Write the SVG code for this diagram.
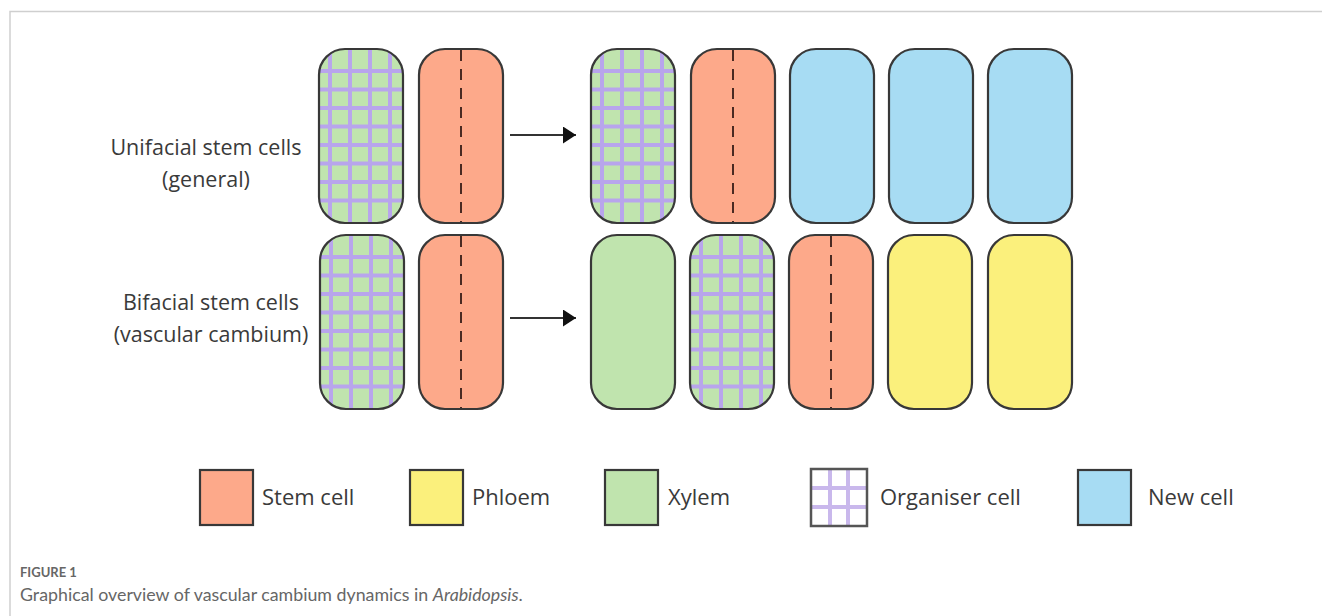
<svg xmlns="http://www.w3.org/2000/svg" xmlns:xlink="http://www.w3.org/1999/xlink" width="1322" height="616" viewBox="0 0 1322 616">
  <style>
    .frame { stroke: #cfcfcf; stroke-width: 1.5; fill: none; }
    .cell { stroke: #383838; stroke-width: 2.2; }
    .stem { fill: #fda98a; }
    .phloem { fill: #fbf07c; }
    .xylem { fill: #c0e4ae; }
    .newc { fill: #a7dcf3; }
    .split { stroke: #4a2a22; stroke-width: 2; stroke-dasharray: 11 8; }
    .grid { stroke: #b8a5ec; stroke-width: 4; }
    .lbl { font-family: "Open Sans", "Noto Sans", sans-serif; font-size: 21.5px; fill: #3a3a3a; text-anchor: middle; }
    .leg { font-family: "Open Sans", "Noto Sans", sans-serif; font-size: 22px; fill: #3a3a3a; }
    .arrow { stroke: #333; stroke-width: 2; fill: none; }
    .cap1 { font-family: "Lato", "Open Sans", sans-serif; font-size: 13px; font-weight: bold; fill: #666; }
    .cap2 { font-family: "Lato", "Open Sans", sans-serif; font-size: 17.8px; fill: #666; }
  </style>
  <defs>
    <marker id="head" viewBox="0 0 13 17" refX="13" refY="8.5" markerWidth="13" markerHeight="17" markerUnits="userSpaceOnUse" orient="auto">
      <path d="M0,0 L13,8.5 L0,17 Z" fill="#111"/>
    </marker>
    <!-- organiser cell: green body with a lavender lattice, clipped to the rounded outline -->
    <clipPath id="orgClip">
      <rect x="0" y="0" width="84" height="174" rx="26" ry="26"/>
    </clipPath>
    <g id="organiser">
      <rect x="0" y="0" width="84" height="174" rx="26" ry="26" class="xylem"/>
      <g clip-path="url(#orgClip)" class="grid">
        <line x1="11" y1="0" x2="11" y2="174"/>
        <line x1="31" y1="0" x2="31" y2="174"/>
        <line x1="51" y1="0" x2="51" y2="174"/>
        <line x1="71" y1="0" x2="71" y2="174"/>
        <line x1="0" y1="22" x2="84" y2="22"/>
        <line x1="0" y1="40.5" x2="84" y2="40.5"/>
        <line x1="0" y1="59" x2="84" y2="59"/>
        <line x1="0" y1="77.5" x2="84" y2="77.5"/>
        <line x1="0" y1="96" x2="84" y2="96"/>
        <line x1="0" y1="114.5" x2="84" y2="114.5"/>
        <line x1="0" y1="133" x2="84" y2="133"/>
        <line x1="0" y1="151.5" x2="84" y2="151.5"/>
      </g>
      <rect x="0" y="0" width="84" height="174" rx="26" ry="26" fill="none" class="cell"/>
    </g>
    <g id="stemCell">
      <rect x="0" y="0" width="84" height="174" rx="26" ry="26" class="cell stem"/>
      <line x1="42" y1="1" x2="42" y2="173" class="split"/>
    </g>
  </defs>

  <!-- page frame -->
  <path class="frame" d="M10,616 L10,11.5 L1322,11.5"/>

  <!-- row labels -->
  <g id="label-unifacial">
    <text class="lbl" x="206" y="155">Unifacial stem cells</text>
    <text class="lbl" x="206" y="187">(general)</text>
  </g>
  <g id="label-bifacial">
    <text class="lbl" x="211" y="310">Bifacial stem cells</text>
    <text class="lbl" x="211" y="342">(vascular cambium)</text>
  </g>

  <!-- unifacial row -->
  <g id="u-organiser"><use xlink:href="#organiser" x="319" y="49"/></g>
  <g id="u-stem"><use xlink:href="#stemCell" x="419" y="49"/></g>
  <g id="u-out-organiser"><use xlink:href="#organiser" x="591" y="49"/></g>
  <g id="u-out-stem"><use xlink:href="#stemCell" x="691" y="49"/></g>
  <g id="u-new-1"><rect x="790" y="49" width="84" height="174" rx="26" class="cell newc"/></g>
  <g id="u-new-2"><rect x="889" y="49" width="84" height="174" rx="26" class="cell newc"/></g>
  <g id="u-new-3"><rect x="988" y="49" width="84" height="174" rx="26" class="cell newc"/></g>

  <!-- bifacial row -->
  <g id="b-organiser"><use xlink:href="#organiser" x="320" y="235"/></g>
  <g id="b-stem"><use xlink:href="#stemCell" x="419" y="235"/></g>
  <g id="b-xylem"><rect x="591" y="235" width="84" height="174" rx="26" class="cell xylem"/></g>
  <g id="b-out-organiser"><use xlink:href="#organiser" x="690" y="235"/></g>
  <g id="b-out-stem"><use xlink:href="#stemCell" x="789" y="235"/></g>
  <g id="b-phloem-1"><rect x="888" y="235" width="84" height="174" rx="26" class="cell phloem"/></g>
  <g id="b-phloem-2"><rect x="988" y="235" width="84" height="174" rx="26" class="cell phloem"/></g>

  <!-- connectors -->
  <g id="connectors">
    <line class="arrow" x1="510" y1="135" x2="576" y2="135" marker-end="url(#head)"/>
    <line class="arrow" x1="510" y1="318" x2="576" y2="318" marker-end="url(#head)"/>
  </g>

  <!-- legend -->
  <g id="legend-stem">
    <rect x="200" y="470" width="53" height="55" class="cell stem"/>
    <text class="leg" x="262" y="505">Stem cell</text>
  </g>
  <g id="legend-phloem">
    <rect x="410" y="470" width="53" height="55" class="cell phloem"/>
    <text class="leg" x="472" y="505">Phloem</text>
  </g>
  <g id="legend-xylem">
    <rect x="605" y="470" width="53" height="55" class="cell xylem"/>
    <text class="leg" x="668" y="505">Xylem</text>
  </g>
  <g id="legend-organiser">
    <rect x="811" y="469" width="56" height="57" fill="#fff"/>
    <g stroke="#c9b8ec" stroke-width="4">
      <line x1="830" y1="469" x2="830" y2="526"/>
      <line x1="848" y1="469" x2="848" y2="526"/>
      <line x1="811" y1="488" x2="867" y2="488"/>
      <line x1="811" y1="507" x2="867" y2="507"/>
    </g>
    <rect x="811" y="469" width="56" height="57" fill="none" stroke="#555" stroke-width="2.5"/>
    <text class="leg" x="880" y="505">Organiser cell</text>
  </g>
  <g id="legend-new">
    <rect x="1078" y="470" width="53" height="55" class="cell newc" stroke="#4a5a66"/>
    <text class="leg" x="1148" y="505" font-family="Liberation Sans, Arial, sans-serif">New cell</text>
  </g>

  <!-- caption -->
  <text class="cap1" x="20" y="577">FIGURE 1</text>
  <text class="cap2" x="20" y="601">Graphical overview of vascular cambium dynamics in <tspan font-style="italic">Arabidopsis</tspan>.</text>
</svg>
